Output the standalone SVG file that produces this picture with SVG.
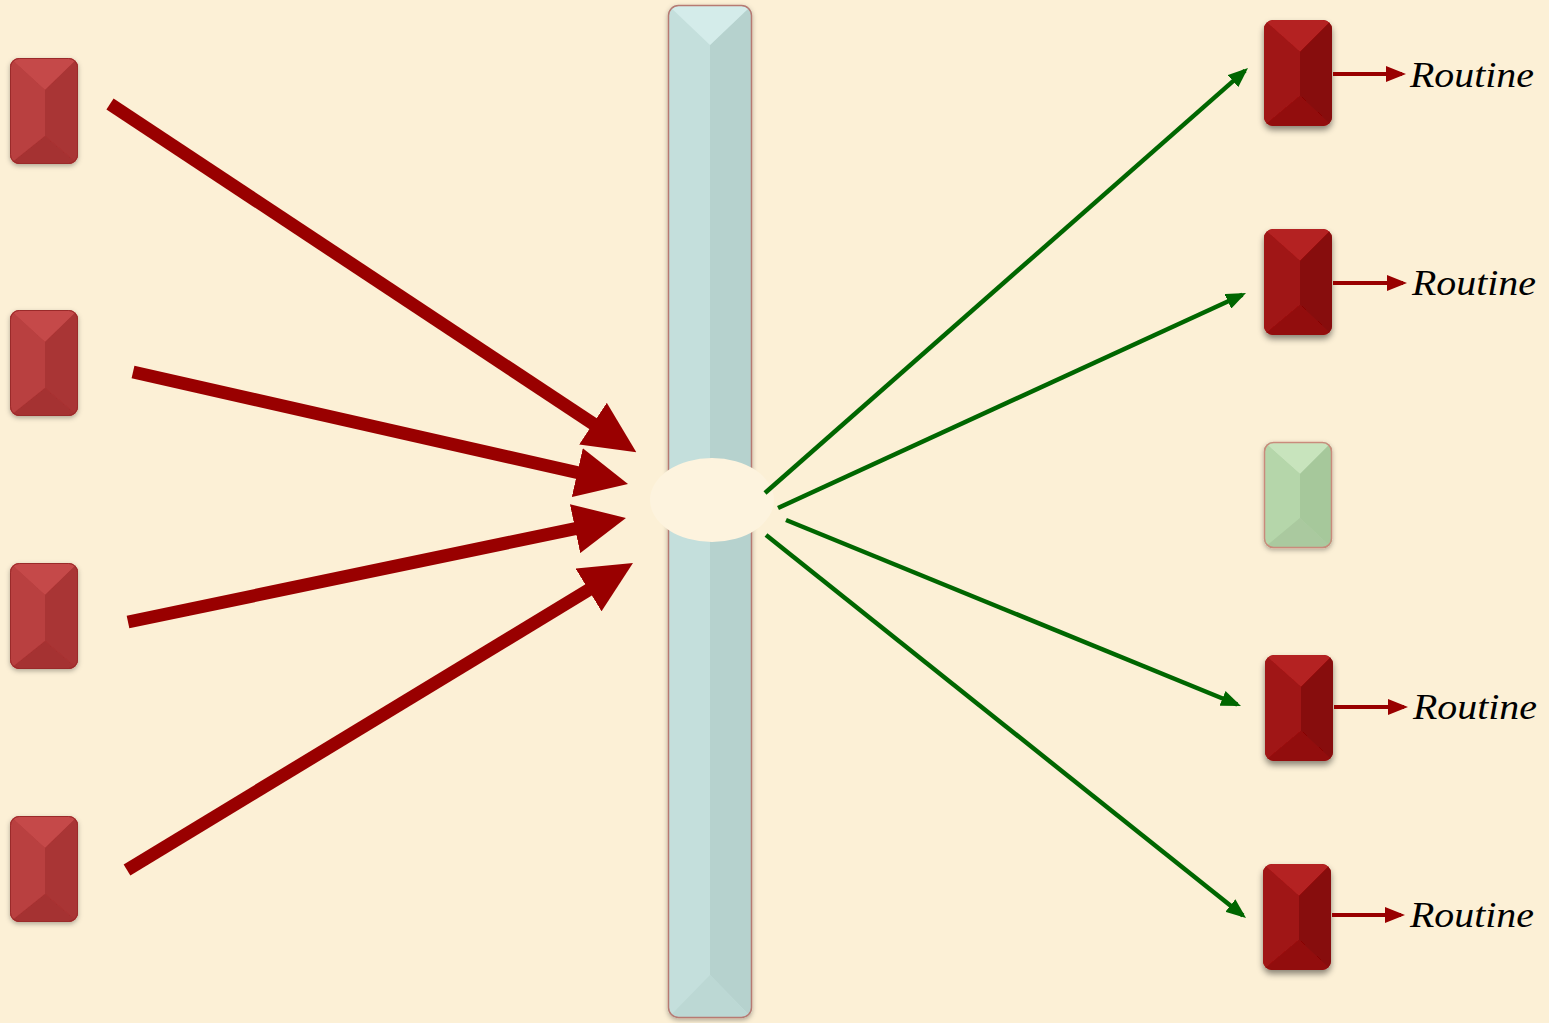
<svg xmlns="http://www.w3.org/2000/svg" width="1549" height="1023" viewBox="0 0 1549 1023">
<defs>
<filter id="sh" x="-30%" y="-30%" width="160%" height="160%"><feDropShadow dx="0" dy="4" stdDeviation="3" flood-color="#000" flood-opacity="0.45"/></filter>
<filter id="sh2" x="-30%" y="-30%" width="160%" height="160%"><feDropShadow dx="0" dy="2" stdDeviation="2.5" flood-color="#000" flood-opacity="0.3"/></filter>
<clipPath id="gc"><rect x="0" y="0" width="68" height="106" rx="9"/></clipPath>
<g id="gemL">
<g clip-path="url(#gc)">
<rect width="68" height="106" fill="#b53b3b"/>
<polygon points="0,0 68,0 35,32 " fill="#c54a4a"/>
<polygon points="0,0 35,32 35,78 0,106" fill="#b94040"/>
<polygon points="68,0 35,32 35,78 68,106" fill="#a93434"/>
<polygon points="0,106 68,106 35,78" fill="#a53030"/>
</g>
<rect x="0.5" y="0.5" width="67" height="105" rx="9" fill="none" stroke="#9a2a2a" stroke-width="1"/>
</g>
<g id="gemR">
<g clip-path="url(#gc)">
<rect width="68" height="106" fill="#9a1010"/>
<polygon points="0,0 68,0 36,32" fill="#b42020"/>
<polygon points="0,0 36,32 36,76 0,106" fill="#a01414"/>
<polygon points="68,0 36,32 36,76 68,106" fill="#870808"/>
<polygon points="0,106 68,106 36,76" fill="#921010"/>
</g>
</g>
<g id="gemG">
<g clip-path="url(#gc)">
<rect width="68" height="106" fill="#b0d2a6"/>
<polygon points="0,0 68,0 36,32" fill="#c8e4bd"/>
<polygon points="0,0 36,32 36,76 0,106" fill="#b5d6aa"/>
<polygon points="68,0 36,32 36,76 68,106" fill="#a6c89b"/>
<polygon points="0,106 68,106 36,76" fill="#aac99f"/>
</g>
<rect x="0.5" y="0.5" width="67" height="105" rx="9" fill="none" stroke="#c98b7b" stroke-width="1.5"/>
</g>
<marker id="bigHead" markerUnits="userSpaceOnUse" viewBox="0 0 52 50" refX="36" refY="25" markerWidth="52" markerHeight="50" orient="auto"><polygon points="0,0 52,25 0,50" fill="#990000"/></marker>
<marker id="gHead" markerUnits="userSpaceOnUse" viewBox="0 0 20 16" refX="16" refY="8" markerWidth="20" markerHeight="16" orient="auto"><polygon points="0,0 20,8 0,16" fill="#006600"/></marker>
<marker id="rHead" markerUnits="userSpaceOnUse" viewBox="0 0 20 16" refX="16" refY="8" markerWidth="20" markerHeight="16" orient="auto"><polygon points="0,0 20,8 0,16" fill="#990000"/></marker>
<clipPath id="bc"><rect x="668" y="5" width="84" height="1013" rx="10"/></clipPath>
</defs>
<style>
.big{stroke:#990000;stroke-width:13;fill:none;marker-end:url(#bigHead)}
.grn{stroke:#006600;stroke-width:4.5;fill:none;marker-end:url(#gHead)}
.sm{stroke:#990000;stroke-width:4;fill:none;marker-end:url(#rHead)}
.lbl{font-family:"Liberation Serif",serif;font-style:italic;font-size:36px;fill:#000}
</style>
<rect width="1549" height="1023" fill="#fcf0d6"/>

<g id="bar" filter="url(#sh2)">
<g clip-path="url(#bc)">
<rect x="668" y="5" width="84" height="1013" fill="#c4dfdc"/>
<polygon points="710,45 752,5 752,1018 710,975" fill="#b6d2ce"/>
<polygon points="668,5 752,5 710,45" fill="#d4ecea"/>
<polygon points="668,1018 752,1018 710,975" fill="#bcd8d4"/>
</g>
<rect x="668.5" y="5.5" width="83" height="1012" rx="10" fill="none" stroke="#b77a72" stroke-width="1.5"/>
</g>
<ellipse id="hole" cx="712" cy="500" rx="62" ry="42" fill="#fdf3de"/>

<g id="in1" filter="url(#sh2)"><use href="#gemL" x="10" y="58"/></g>
<g id="in2" filter="url(#sh2)"><use href="#gemL" x="10" y="310"/></g>
<g id="in3" filter="url(#sh2)"><use href="#gemL" x="10" y="563"/></g>
<g id="in4" filter="url(#sh2)"><use href="#gemL" x="10" y="816"/></g>

<g id="out1" filter="url(#sh)"><use href="#gemR" x="1264" y="20"/></g>
<g id="out2" filter="url(#sh)"><use href="#gemR" x="1264" y="229"/></g>
<g id="out3" filter="url(#sh2)"><use href="#gemG" x="1264" y="442"/></g>
<g id="out4" filter="url(#sh)"><use href="#gemR" x="1265" y="655"/></g>
<g id="out5" filter="url(#sh)"><use href="#gemR" x="1263" y="864"/></g>

<g id="connectors">
<line class="big" x1="110" y1="104" x2="623" y2="443.5"/>
<line class="big" x1="133" y1="372" x2="612.4" y2="480.5"/>
<line class="big" x1="128" y1="622" x2="610.3" y2="521.3"/>
<line class="big" x1="127" y1="870" x2="619.3" y2="571.3"/>
<line class="grn" x1="765" y1="493" x2="1245" y2="70.6"/>
<line class="grn" x1="778" y1="508" x2="1242.4" y2="294.7"/>
<line class="grn" x1="786" y1="520" x2="1237.3" y2="704.5"/>
<line class="grn" x1="766" y1="535" x2="1242.9" y2="915.5"/>
<line class="sm" x1="1333" y1="74" x2="1402" y2="74"/>
<line class="sm" x1="1333" y1="283" x2="1403" y2="283"/>
<line class="sm" x1="1334" y1="707" x2="1404" y2="707"/>
<line class="sm" x1="1332" y1="915" x2="1401" y2="915"/>
</g>

<g id="labels">
<text class="lbl" x="1410" y="87" textLength="124" lengthAdjust="spacingAndGlyphs">Routine</text>
<text class="lbl" x="1412" y="295" textLength="124" lengthAdjust="spacingAndGlyphs">Routine</text>
<text class="lbl" x="1413" y="719" textLength="124" lengthAdjust="spacingAndGlyphs">Routine</text>
<text class="lbl" x="1410" y="927" textLength="124" lengthAdjust="spacingAndGlyphs">Routine</text>
</g>
</svg>
